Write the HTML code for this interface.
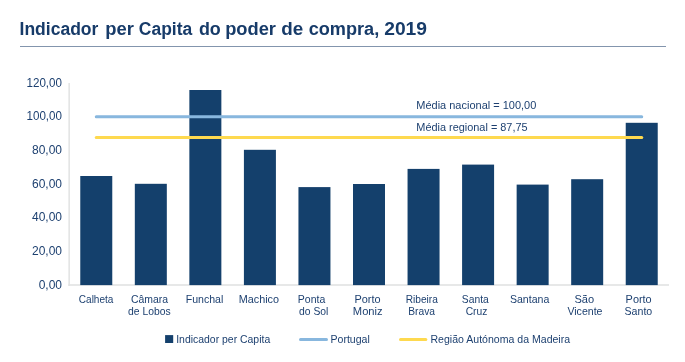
<!DOCTYPE html>
<html><head><meta charset="utf-8"><style>
html,body{margin:0;padding:0;background:#fff;width:685px;height:362px;overflow:hidden}
svg{display:block;will-change:transform;font-family:"Liberation Sans",sans-serif}
</style></head><body>
<svg width="685" height="362" viewBox="0 0 685 362">
<rect width="685" height="362" fill="#fff"/>
<text x="19.53" y="34.7" font-weight="bold" font-size="18" fill="#173b69" textLength="78.89" lengthAdjust="spacingAndGlyphs">Indicador</text>
<text x="105.38" y="34.7" font-weight="bold" font-size="18" fill="#173b69" textLength="28.64" lengthAdjust="spacingAndGlyphs">per</text>
<text x="138.83" y="34.7" font-weight="bold" font-size="18" fill="#173b69" textLength="53.39" lengthAdjust="spacingAndGlyphs">Capita</text>
<text x="198.91" y="34.7" font-weight="bold" font-size="18" fill="#173b69" textLength="21.89" lengthAdjust="spacingAndGlyphs">do</text>
<text x="225.18" y="34.7" font-weight="bold" font-size="18" fill="#173b69" textLength="50.83" lengthAdjust="spacingAndGlyphs">poder</text>
<text x="281.35" y="34.7" font-weight="bold" font-size="18" fill="#173b69" textLength="22.01" lengthAdjust="spacingAndGlyphs">de</text>
<text x="308.69" y="34.7" font-weight="bold" font-size="18" fill="#173b69" textLength="70.55" lengthAdjust="spacingAndGlyphs">compra,</text>
<text x="384.20" y="34.7" font-weight="bold" font-size="18" fill="#173b69" textLength="42.85" lengthAdjust="spacingAndGlyphs">2019</text>
<rect x="20" y="46" width="646" height="1" fill="#8395ad"/>
<rect x="68.4" y="83" width="1.5" height="203" fill="#e2e3e3"/>
<rect x="68.4" y="284.2" width="600.6" height="1.6" fill="#e2e3e3"/>
<text x="62.0" y="288.70" font-size="12" fill="#1d4070" text-anchor="end">0,00</text>
<text x="62.0" y="255.03" font-size="12" fill="#1d4070" text-anchor="end">20,00</text>
<text x="62.0" y="221.37" font-size="12" fill="#1d4070" text-anchor="end">40,00</text>
<text x="62.0" y="187.70" font-size="12" fill="#1d4070" text-anchor="end">60,00</text>
<text x="62.0" y="154.03" font-size="12" fill="#1d4070" text-anchor="end">80,00</text>
<text x="62.0" y="120.37" font-size="12" fill="#1d4070" text-anchor="end" textLength="35.50" lengthAdjust="spacingAndGlyphs">100,00</text>
<text x="62.0" y="86.70" font-size="12" fill="#1d4070" text-anchor="end" textLength="35.50" lengthAdjust="spacingAndGlyphs">120,00</text>
<rect x="80.27" y="176.00" width="32.0" height="109.10" fill="#14406c"/>
<text x="78.80" y="302.7" font-size="11" fill="#1d4070" textLength="34.63" lengthAdjust="spacingAndGlyphs">Calheta</text>
<rect x="134.82" y="183.80" width="32.0" height="101.30" fill="#14406c"/>
<text x="130.90" y="302.7" font-size="11" fill="#1d4070" textLength="37.12" lengthAdjust="spacingAndGlyphs">Câmara</text>
<text x="128.00" y="314.6" font-size="11" fill="#1d4070" textLength="42.65" lengthAdjust="spacingAndGlyphs">de Lobos</text>
<rect x="189.36" y="90.00" width="32.0" height="195.10" fill="#14406c"/>
<text x="185.74" y="302.7" font-size="11" fill="#1d4070" textLength="37.60" lengthAdjust="spacingAndGlyphs">Funchal</text>
<rect x="243.91" y="149.80" width="32.0" height="135.30" fill="#14406c"/>
<text x="238.72" y="302.7" font-size="11" fill="#1d4070" textLength="40.25" lengthAdjust="spacingAndGlyphs">Machico</text>
<rect x="298.45" y="187.10" width="32.0" height="98.00" fill="#14406c"/>
<text x="297.85" y="302.7" font-size="11" fill="#1d4070" textLength="27.42" lengthAdjust="spacingAndGlyphs">Ponta</text>
<text x="299.00" y="314.6" font-size="11" fill="#1d4070" textLength="29.39" lengthAdjust="spacingAndGlyphs">do Sol</text>
<rect x="353.00" y="184.00" width="32.0" height="101.10" fill="#14406c"/>
<text x="354.41" y="302.7" font-size="11" fill="#1d4070" textLength="26.09" lengthAdjust="spacingAndGlyphs">Porto</text>
<text x="352.89" y="314.6" font-size="11" fill="#1d4070" textLength="29.76" lengthAdjust="spacingAndGlyphs">Moniz</text>
<rect x="407.55" y="168.90" width="32.0" height="116.20" fill="#14406c"/>
<text x="405.68" y="302.7" font-size="11" fill="#1d4070" textLength="32.19" lengthAdjust="spacingAndGlyphs">Ribeira</text>
<text x="408.27" y="314.6" font-size="11" fill="#1d4070" textLength="26.80" lengthAdjust="spacingAndGlyphs">Brava</text>
<rect x="462.09" y="164.60" width="32.0" height="120.50" fill="#14406c"/>
<text x="461.86" y="302.7" font-size="11" fill="#1d4070" textLength="26.90" lengthAdjust="spacingAndGlyphs">Santa</text>
<text x="465.70" y="314.6" font-size="11" fill="#1d4070" textLength="21.72" lengthAdjust="spacingAndGlyphs">Cruz</text>
<rect x="516.64" y="184.60" width="32.0" height="100.50" fill="#14406c"/>
<text x="509.94" y="302.7" font-size="11" fill="#1d4070" textLength="39.34" lengthAdjust="spacingAndGlyphs">Santana</text>
<rect x="571.18" y="179.20" width="32.0" height="105.90" fill="#14406c"/>
<text x="574.49" y="302.7" font-size="11" fill="#1d4070" textLength="19.69" lengthAdjust="spacingAndGlyphs">São</text>
<text x="567.40" y="314.6" font-size="11" fill="#1d4070" textLength="35.08" lengthAdjust="spacingAndGlyphs">Vicente</text>
<rect x="625.73" y="122.80" width="32.0" height="162.30" fill="#14406c"/>
<text x="625.61" y="302.7" font-size="11" fill="#1d4070" textLength="26.09" lengthAdjust="spacingAndGlyphs">Porto</text>
<text x="624.54" y="314.6" font-size="11" fill="#1d4070" textLength="27.72" lengthAdjust="spacingAndGlyphs">Santo</text>
<line x1="96.27" y1="116.8" x2="641.73" y2="116.8" stroke="#88b7de" stroke-width="3" stroke-linecap="round"/>
<line x1="96.27" y1="137.5" x2="641.73" y2="137.5" stroke="#fed94f" stroke-width="3" stroke-linecap="round"/>
<text x="416.3" y="109.4" font-size="11" fill="#1d4070" textLength="120" lengthAdjust="spacingAndGlyphs">Média nacional = 100,00</text>
<text x="416.3" y="130.9" font-size="11" fill="#1d4070" textLength="111.3" lengthAdjust="spacingAndGlyphs">Média regional = 87,75</text>
<rect x="165.1" y="335.1" width="8.1" height="7.9" fill="#14406c"/>
<text x="176.2" y="342.9" font-size="11" fill="#1d4070" textLength="94" lengthAdjust="spacingAndGlyphs">Indicador per Capita</text>
<line x1="300.5" y1="339.4" x2="326.5" y2="339.4" stroke="#88b7de" stroke-width="3" stroke-linecap="round"/>
<text x="330.5" y="342.9" font-size="11" fill="#1d4070" textLength="39.3" lengthAdjust="spacingAndGlyphs">Portugal</text>
<line x1="400.5" y1="339.4" x2="425.8" y2="339.4" stroke="#fed94f" stroke-width="3" stroke-linecap="round"/>
<text x="430.5" y="342.9" font-size="11" fill="#1d4070" textLength="139.6" lengthAdjust="spacingAndGlyphs">Região Autónoma da Madeira</text>
</svg>
</body></html>
